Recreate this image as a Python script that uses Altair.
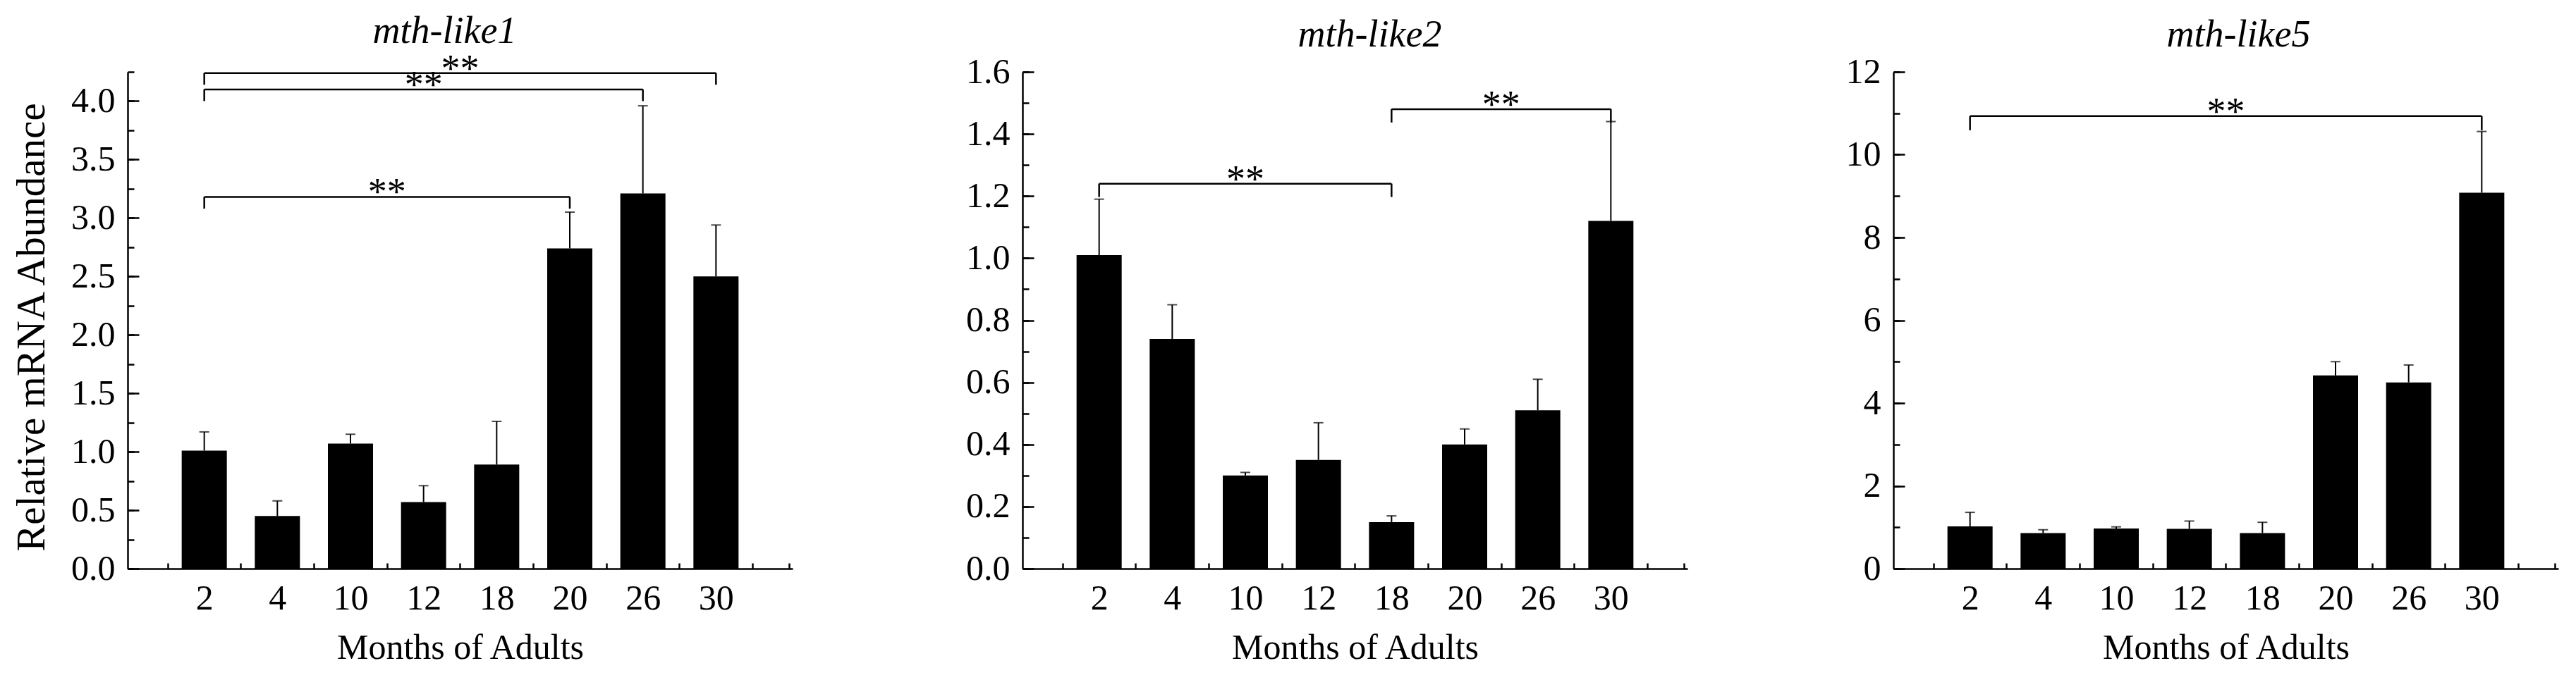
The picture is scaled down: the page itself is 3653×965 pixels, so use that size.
import json
import altair as alt
import pandas as pd

SERIF = "Liberation Serif"

# ---------------- data ----------------
months = ["2", "4", "10", "12", "18", "20", "26", "30"]
positions = [1, 2, 3, 4, 5, 6, 7, 8]
genes = ["mth-like1", "mth-like2", "mth-like5"]

mean_like1 = [1.01, 0.45, 1.07, 0.57, 0.89, 2.74, 3.21, 2.50]
upper_like1 = [1.17, 0.58, 1.15, 0.71, 1.26, 3.05, 3.96, 2.94]

mean_like2 = [1.01, 0.74, 0.30, 0.35, 0.15, 0.40, 0.51, 1.12]
upper_like2 = [1.19, 0.85, 0.31, 0.47, 0.17, 0.45, 0.61, 1.44]

mean_like5 = [1.02, 0.86, 0.97, 0.96, 0.86, 4.67, 4.50, 9.08]
upper_like5 = [1.36, 0.94, 1.01, 1.15, 1.12, 5.00, 4.92, 10.56]

# significance brackets: start / end bar position and bracket level
br_from = [[1, 1, 1], [1, 5], [1]]
br_to = [[6, 7, 8], [5, 8], [8]]
br_level = [[3.18, 4.10, 4.24], [1.24, 1.48], [10.93]]
br_leg = [0.10, 0.043, 0.34]
br_label = "**"

y_top = [4.25, 1.6, 12]
y_major_step = [0.5, 0.2, 2]
y_minor_step = [0.25, 0.1, 1]
y_format = [".1f", ".1f", "d"]

means = [mean_like1, mean_like2, mean_like5]
uppers = [upper_like1, upper_like2, upper_like5]

# ---------------- layout / style ----------------
W, H = 943, 705
label_extent = [84, 104, 70]
title_dx = [-22, 21, 18]
title_offset = [-43, -43, -43]

label_expr = json.dumps([""] + months) + "[datum.value] || ''"


def steps(top, step):
    n = int(round(top / step))
    return [round(k * step, 4) for k in range(n + 1)]


def panel(i):
    df = pd.DataFrame({"pos": positions, "month": months,
                       "mean": means[i], "upper": uppers[i]})
    br = pd.DataFrame({"x1": br_from[i], "x2": br_to[i], "level": br_level[i]})

    xs = alt.Scale(domain=[0, 9], nice=False, zero=False)
    ys = alt.Scale(domain=[0, y_top[i]], nice=False)

    major = steps(y_top[i], y_major_step[i])
    major = [v for v in major if v <= y_top[i] + 1e-9]
    minor = steps(y_top[i], y_minor_step[i])

    x_tick_axis = alt.Axis(values=[p + 0.5 for p in [0] + positions] + [9],
                           labels=False, domain=True, domainColor="black",
                           domainWidth=2.5, ticks=True, tickColor="black",
                           tickWidth=2.5, tickSize={"expr": "-8"},
                           title=None, orient="bottom", grid=False)
    x_label_axis = alt.Axis(values=positions, labelExpr=label_expr,
                            ticks=False, domain=False, grid=False,
                            labelFont=SERIF, labelFontSize=50,
                            labelColor="black", labelBaseline="alphabetic",
                            labelPadding=57, minExtent=70, maxExtent=70,
                            title="Months of Adults", titleFont=SERIF,
                            titleFontSize=50, titleFontWeight="normal",
                            titleColor="black", titleBaseline="alphabetic",
                            titlePadding=57, orient="bottom",
                            labelOverlap=False)

    y_title = "Relative mRNA Abundance" if i == 0 else None
    y_label_kwargs = dict(values=major, format=y_format[i], ticks=False,
                          domain=True, domainColor="black", domainWidth=2.5,
                          grid=False, labelFont=SERIF, labelFontSize=50,
                          labelColor="black", labelPadding=18,
                          minExtent=label_extent[i], maxExtent=label_extent[i],
                          orient="left", labelOverlap=False)
    if y_title:
        y_label_kwargs.update(title=y_title, titleFont=SERIF, titleFontSize=57,
                              titleFontWeight="normal", titleColor="black",
                              titleBaseline="alphabetic",
                              titlePadding=176.7 - 58.3 - label_extent[i],
                              titleY=362)
    else:
        y_label_kwargs.update(title=None)
    y_label_axis = alt.Axis(**y_label_kwargs)
    y_major_axis = alt.Axis(values=major, labels=False, domain=False,
                            grid=False, ticks=True, tickColor="black",
                            tickWidth=2.5, tickSize={"expr": "-16"},
                            title=None, orient="left", minExtent=0, maxExtent=0)
    y_minor_axis = alt.Axis(values=minor, labels=False, domain=False,
                            grid=False, ticks=True, tickColor="black",
                            tickWidth=2.5, tickSize={"expr": "-9"},
                            title=None, orient="left", minExtent=0, maxExtent=0)

    base = alt.Chart(df)
    bars = base.mark_bar(color="black", size=64).encode(
        x=alt.X("pos:Q", scale=xs, axis=x_tick_axis),
        y=alt.Y("mean:Q", scale=ys, axis=y_label_axis),
    )
    err = base.mark_rule(color="black", strokeWidth=2).encode(
        x=alt.X("pos:Q", scale=xs, axis=x_label_axis),
        y=alt.Y("mean:Q", scale=ys, axis=y_major_axis),
        y2="upper:Q",
    )
    caps = base.mark_tick(color="black", orient="horizontal", size=14,
                          thickness=2).encode(
        x=alt.X("pos:Q", scale=xs, axis=None),
        y=alt.Y("upper:Q", scale=ys, axis=y_minor_axis),
    )

    bbase = alt.Chart(br)
    blines = bbase.mark_rule(color="black", strokeWidth=2.5).encode(
        x=alt.X("x1:Q", scale=xs, axis=None),
        x2="x2:Q",
        y=alt.Y("level:Q", scale=ys, axis=None),
    )
    blegs = bbase.transform_fold(["x1", "x2"], as_=["end", "xpos"]).transform_calculate(
        bottom=f"datum.level - {br_leg[i]}"
    ).mark_rule(color="black", strokeWidth=2.5).encode(
        x=alt.X("xpos:Q", scale=xs, axis=None),
        y=alt.Y("level:Q", scale=ys, axis=None),
        y2="bottom:Q",
    )
    stars = bbase.transform_calculate(
        mid="(datum.x1 + datum.x2) / 2", lab=f"'{br_label}'"
    ).mark_text(font=SERIF, fontSize=54, color="black", baseline="alphabetic",
                align="center", dy=11).encode(
        x=alt.X("mid:Q", scale=xs, axis=None),
        y=alt.Y("level:Q", scale=ys, axis=None),
        text="lab:N",
    )

    return alt.layer(bars, err, caps, blines, blegs, stars).resolve_axis(
        x="independent", y="independent"
    ).properties(
        width=W, height=H,
        title=alt.TitleParams(text=genes[i], font=SERIF, fontSize=54,
                              fontStyle="italic", fontWeight="normal",
                              color="black", baseline="alphabetic",
                              anchor="middle", dx=title_dx[i],
                              offset=title_offset[i]),
    )


chart = alt.hconcat(panel(0), panel(1), panel(2), spacing=222,
                    bounds="full").properties(
    padding={"left": 8, "top": 9, "right": 5, "bottom": 5},
    background="white",
).configure_view(stroke=None)

chart.save("out.html", embed_options={"renderer": "svg", "actions": False})
